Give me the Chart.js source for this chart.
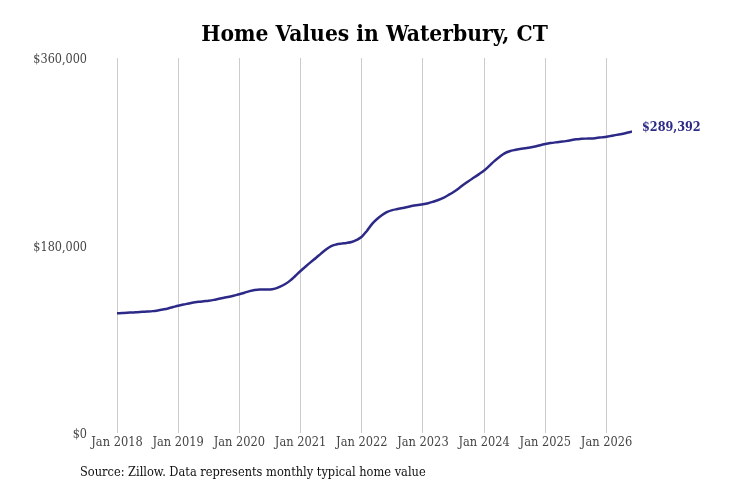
<!DOCTYPE html>
<html>
<head>
<meta charset="utf-8">
<script src="https://cdn.jsdelivr.net/npm/chart.js@4"></script>
<style>
  html, body { margin: 0; padding: 0; background: #ffffff; }
  #wrap { width: 731px; height: 487px; }
</style>
</head>
<body>
<div id="wrap"><canvas id="c" width="731" height="487"></canvas></div>
<script>
const chartTitle = "Home Values in Waterbury, CT";
const sourceNote = "Source: Zillow. Data represents monthly typical home value";
const startYear = 2018;
const tickIndexes = [0, 12, 24, 36, 48, 60, 72, 84, 96];
const tickLabels = ["Jan 2018", "Jan 2019", "Jan 2020", "Jan 2021", "Jan 2022", "Jan 2023", "Jan 2024", "Jan 2025", "Jan 2026"];
const yTicks = [0, 180000, 360000];
const homeValues = [
  114900, 115200, 115500, 115700, 116000, 116300, 116600, 117000, 117700, 118600, 119600, 120900,
  122200, 123300, 124300, 125300, 125900, 126500, 127000, 127800, 128900, 129900, 130800, 132000,
  133200, 134700, 136200, 137300, 137800, 137800, 137800, 138600, 140500, 143000, 146500, 151000,
  155500, 159800, 164000, 168000, 172200, 176200, 179500, 181000, 181800, 182400, 183300, 185300,
  188400, 194000, 200500, 205400, 209200, 212200, 214000, 215000, 216000, 217000, 218100, 218800,
  219500, 220500, 222000, 223700, 225800, 228500, 231400, 234800, 238500, 242000, 245200, 248500,
  252000, 256400, 261000, 265000, 268500, 270500, 271700, 272600, 273300, 274000, 275000, 276300,
  277400, 278300, 279000, 279600, 280200, 281000, 282000, 282400, 282600, 282700, 283200, 283800,
  284400, 285300, 286200, 287000, 288200, 289392
];

const SERIF = '"DejaVu Serif Condensed", "DejaVu Serif", serif';
const lineColor = '#2d2a87';
const points = homeValues.map((v, i) => ({ x: i, y: v }));

const fmt = v => '$' + v.toLocaleString('en-US');

const extras = {
  id: 'extras',
  afterDraw(chart) {
    const ctx = chart.ctx;
    const area = chart.chartArea;
    ctx.save();
    // title
    ctx.fillStyle = '#000';
    ctx.font = 'bold 22.6px ' + SERIF;
    ctx.textAlign = 'center';
    ctx.textBaseline = 'middle';
    ctx.fillText(chartTitle, (area.left + area.right) / 2, 35.5);
    // end label
    const meta = chart.getDatasetMeta(0);
    const last = meta.data[meta.data.length - 1];
    ctx.fillStyle = lineColor;
    ctx.font = 'bold 12.5px ' + SERIF;
    ctx.textAlign = 'left';
    ctx.fillText(fmt(homeValues[homeValues.length - 1]), last.x + 10, last.y - 4);
    // source
    ctx.fillStyle = '#111';
    ctx.font = '12.7px ' + SERIF;
    ctx.fillText(sourceNote, 80, 472.5);
    ctx.restore();
  }
};

new Chart(document.getElementById('c'), {
  type: 'line',
  data: {
    datasets: [{
      data: points,
      borderColor: lineColor,
      borderWidth: 2.5,
      pointRadius: 0,
      fill: false,
      tension: 0.4,
      cubicInterpolationMode: 'monotone'
    }]
  },
  options: {
    responsive: false,
    animation: false,
    devicePixelRatio: 1,
    layout: { padding: { top: 58, right: 99, bottom: 34, left: 0 } },
    plugins: { legend: { display: false }, title: { display: false }, tooltip: { enabled: false } },
    scales: {
      x: {
        type: 'linear',
        min: 0,
        max: homeValues.length - 1,
        afterBuildTicks: s => { s.ticks = tickIndexes.map(v => ({ value: v })); },
        afterFit: s => { s.height = 20; },
        ticks: {
          autoSkip: false,
          maxRotation: 0,
          padding: 2,
          color: '#444',
          font: { family: SERIF, size: 12.7 },
          callback: v => tickLabels[tickIndexes.indexOf(v)]
        },
        grid: { display: true, color: '#cccccc', lineWidth: 1, drawTicks: false },
        border: { display: false }
      },
      y: {
        min: 0,
        max: 360000,
        afterBuildTicks: s => { s.ticks = yTicks.map(v => ({ value: v })); },
        afterFit: s => { s.width = 117; },
        ticks: {
          padding: 30,
          labelOffset: 2,
          color: '#444',
          font: { family: SERIF, size: 12.5 },
          callback: v => fmt(v)
        },
        grid: { display: false, drawTicks: false },
        border: { display: false }
      }
    }
  },
  plugins: [extras]
});
</script>
</body>
</html>
